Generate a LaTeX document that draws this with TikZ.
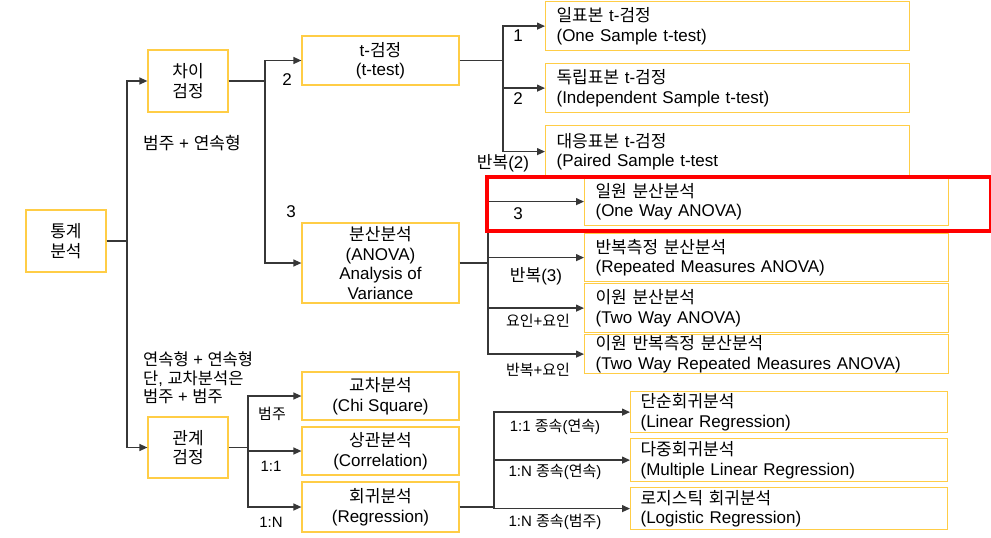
\documentclass[tikz,border=0pt]{standalone}
\usepackage{fontspec}
\setmainfont{Liberation Sans}
\newfontfamily\krfont[Scale=1.0]{Noto Sans CJK KR}
\newcommand\kor[1]{{\krfont #1}}
\usetikzlibrary{arrows.meta}
\definecolor{boxcol}{RGB}{255,205,70}
\definecolor{linecol}{RGB}{55,55,55}
\begin{document}
\begin{tikzpicture}[x=1pt,y=-1pt,
  box/.style={draw=boxcol, line width=1.2pt, inner sep=0pt, font=\fontsize{17}{19.5}\selectfont, align=center},
  rbox/.style={box, align=left, anchor=north west, inner xsep=11pt},
  conn/.style={draw=linecol, line width=1.3pt},
  arr/.style={conn, -{Triangle[length=8pt,width=7pt]}},
  lab/.style={font=\fontsize{17}{19}\selectfont, inner sep=0pt},
  slab/.style={font=\fontsize{15}{18}\selectfont, inner sep=0pt},
  hilite/.style={draw=red, line width=3.5pt, inner sep=0pt, anchor=north west}]
\useasboundingbox (0,0) rectangle (991,538);

% left boxes
\node[box, minimum width=80pt, minimum height=62pt] (root) at (66,241) {\kor{통계}\\\kor{분석}};
\node[box, minimum width=80pt, minimum height=62pt] (chai) at (188,81) {\kor{차이}\\\kor{검정}};
\node[box, minimum width=80pt, minimum height=61pt] (gwan) at (188,447.5) {\kor{관계}\\\kor{검정}};

% middle boxes
\node[box, minimum width=157pt, minimum height=49pt] (tt) at (380.5,60.5) {t-\kor{검정}\\(t-test)};
\node[box, minimum width=157pt, minimum height=80pt] (anova) at (380.5,263) {\kor{분산분석}\\(ANOVA)\\Analysis of\\Variance};
\node[box, minimum width=157pt, minimum height=48pt] (c1) at (380.5,396) {\kor{교차분석}\\(Chi Square)};
\node[box, minimum width=157pt, minimum height=48pt] (c2) at (380.5,451) {\kor{상관분석}\\(Correlation)};
\node[box, minimum width=157pt, minimum height=50pt] (c3) at (380.5,507) {\kor{회귀분석}\\(Regression)};

% right boxes
\node[rbox, text width=342pt, minimum height=49pt] (b1) at (545,1) {\kor{일표본} t-\kor{검정}\\(One Sample t-test)};
\node[rbox, text width=342pt, minimum height=49pt] (b2) at (545,63) {\kor{독립표본} t-\kor{검정}\\(Independent Sample t-test)};
\node[rbox, text width=342pt, minimum height=52pt] (b3) at (545,125) {\kor{대응표본} t-\kor{검정}\\(Paired Sample t-test};
\node[rbox, text width=342pt, minimum height=48pt, fill=white] (b4) at (584,177) {\kor{일원 분산분석}\\(One Way ANOVA)};
\node[rbox, text width=342pt, minimum height=48pt] (b5) at (584,233) {\kor{반복측정 분산분석}\\(Repeated Measures ANOVA)};
\node[rbox, text width=342pt, minimum height=49pt] (b6) at (584,283) {\kor{이원 분산분석}\\(Two Way ANOVA)};
\node[rbox, text width=342pt, minimum height=39pt] (b7) at (584,334) {\kor{이원 반복측정 분산분석}\\(Two Way Repeated Measures ANOVA)};
\node[rbox, text width=297pt, inner xsep=10pt, minimum height=41pt] (d1) at (630,391) {\kor{단순회귀분석}\\(Linear Regression)};
\node[rbox, text width=297pt, inner xsep=10pt, minimum height=43pt] (d2) at (630,438) {\kor{다중회귀분석}\\(Multiple Linear Regression)};
\node[rbox, text width=297pt, inner xsep=10pt, minimum height=42pt] (d3) at (630,487) {\kor{로지스틱 회귀분석}\\(Logistic Regression)};

% junctions
\coordinate (jr) at (127,241);
\coordinate (jc) at (265,81);
\coordinate (jt) at (503,60.5);
\coordinate (ja) at (488,263);
\coordinate (jg) at (248,447.5);
\coordinate (jreg) at (494,507);

% connectors
\draw[conn] (root.east) -- (jr);
\draw[arr] (jr) |- (chai.west);
\draw[arr] (jr) |- (gwan.west);
\draw[conn] (chai.east) -- (jc);
\draw[arr] (jc) |- (tt.west);
\draw[arr] (jc) |- (anova.west);
\draw[conn] (tt.east) -- (jt);
\draw[arr] (jt) |- (b1.west);
\draw[arr] (jt) |- (b2.west);
\draw[arr] (jt) |- (b3.west);
\draw[conn] (anova.east) -- (ja);
\draw[arr] (ja) |- (b4.west);
\draw[arr] (ja) |- (b5.west);
\draw[arr] (ja) |- (b6.west);
\draw[arr] (ja) |- (b7.west);
\draw[conn] (gwan.east) -- (jg);
\draw[arr] (jg) |- (c1.west);
\draw[arr] (jg) |- (c2.west);
\draw[arr] (jg) |- (c3.west);
\draw[conn] (c3.east) -- (jreg);
\draw[arr] (jreg) |- (d1.west);
\draw[arr] (jreg) |- (d2.west);
\draw[arr] (jreg) |- (d3.west);

% labels
\node[lab, anchor=west] (l0) at (143,143) {\kor{범주} + \kor{연속형}};
\node[lab, anchor=west, align=left, font=\fontsize{16.5}{18.5}\selectfont] (l00) at (143,378) {\kor{연속형} + \kor{연속형}\\\kor{단}, \kor{교차분석은}\\\kor{범주} + \kor{범주}};
\node[lab] (l1) at (287,80) {2};
\node[lab] (l2) at (291,212) {3};
\node[lab] (l3) at (518,36) {1};
\node[lab] (l4) at (518,99) {2};
\node[lab] (l5) at (503,163) {\kor{반복}(2)};
\node[lab] (l6) at (518,214) {3};
\node[lab] (l7) at (536,276) {\kor{반복}(3)};
\node[slab] (l8) at (538,321) {\kor{요인}+\kor{요인}};
\node[slab] (l9) at (538,370) {\kor{반복}+\kor{요인}};
\node[slab] (l10) at (272,414) {\kor{범주}};
\node[slab] (l11) at (271,466) {1:1};
\node[slab] (l12) at (271,522) {1:N};
\node[slab] (l13) at (555,427) {1:1 \kor{종속}(\kor{연속})};
\node[slab] (l14) at (555,472) {1:N \kor{종속}(\kor{연속})};
\node[slab] (l15) at (555,522) {1:N \kor{종속}(\kor{범주})};

% highlight
\node[hilite, minimum width=503.5pt, minimum height=54pt] (hl) at (485,175) {};
\end{tikzpicture}
\end{document}
